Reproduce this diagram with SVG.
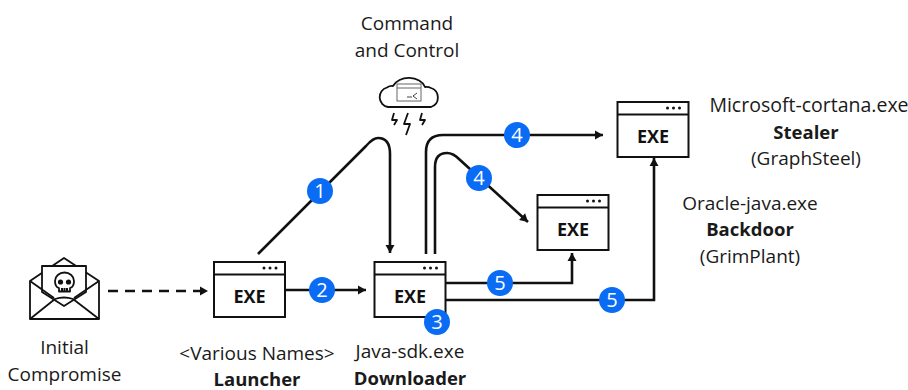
<svg xmlns="http://www.w3.org/2000/svg" width="908" height="390" viewBox="0 0 908 390">
<style>
text{font-family:"Open Sans","Noto Sans",sans-serif;fill:#1a1a1a;font-size:19px;text-anchor:middle}
.b{font-weight:700;font-size:18.500px}
.exe{font-weight:700;font-size:18px;fill:#111}
.box{fill:#fff;stroke:#111;stroke-width:2}
.line{fill:none;stroke:#111;stroke-width:2}
.conn{fill:none;stroke:#111;stroke-width:2.6}
.ic{fill:none;stroke:#111;stroke-width:1.8;stroke-linejoin:round}
.fi{fill:#fff}
.badge{fill:#0a6cf5}
.num{fill:#fff;font-size:20px}
</style>
<defs>
<marker id="arr" markerUnits="userSpaceOnUse" markerWidth="10" markerHeight="10" refX="9" refY="5" orient="auto"><path d="M1 0.5L9 5L1 9.500z" fill="#111"/></marker>
<g id="win"><rect class="box" x="0" y="0" width="71" height="55"/><path class="line" d="M0 12.500H71"/><circle cx="50" cy="6" r="1.500" fill="#111"/><circle cx="56" cy="6" r="1.500" fill="#111"/><circle cx="62" cy="6" r="1.500" fill="#111"/><text class="exe" x="35.500" y="41">EXE</text></g>
</defs>
<g id="connectors">
<path class="conn" marker-end="url(#arr)" stroke-dasharray="10 7" d="M108 291H208"/>
<path class="conn" marker-end="url(#arr)" d="M258 254L366 146Q373 138 378 138Q390 138 390 154V253"/>
<path class="conn" marker-end="url(#arr)" d="M286 290H366"/>
<path class="conn" marker-end="url(#arr)" d="M426 254V152Q426 135 443 135H603"/>
<path class="conn" marker-end="url(#arr)" d="M435 254V167Q435 153 447 153Q453 153 459 159L528 222"/>
<path class="conn" marker-end="url(#arr)" d="M446 283H572V253"/>
<path class="conn" marker-end="url(#arr)" d="M446 300H654V158"/>
</g>
<g id="initial">
<path class="ic" d="M30 319V281L64 258L99 281V319Z"/>
<path class="ic fi" d="M42 292V266H86V292L64 306Z"/>
<path class="ic" d="M30 319L55 299Q64 296 73 299L99 319"/>
<path class="ic" d="M30 281L54 298M99 281L74 298"/>
<path class="ic fi" d="M55 281a9.500 8.500 0 0 1 19 0q0 6-4 7v3.500h-11v-3.500q-4-1-4-7z"/>
<circle cx="60.500" cy="282" r="2.600" fill="#111"/><circle cx="68.500" cy="282" r="2.600" fill="#111"/>
<path class="line" stroke-width="1" d="M62 288v4M64.500 288v4M67 288v4"/>
<text x="64.500" y="354">Initial</text><text x="64.500" y="381">Compromise</text>
</g>
<g id="launcher"><use href="#win" x="214" y="262"/><text x="257" y="360">&lt;Various Names&gt;</text><text class="b" x="257" y="386">Launcher</text></g>
<g id="downloader"><use href="#win" x="374.500" y="262"/><text x="410" y="358">Java-sdk.exe</text><text class="b" x="410" y="385">Downloader</text></g>
<g id="backdoor"><use href="#win" x="537.500" y="195"/><text x="750" y="210">Oracle-java.exe</text><text class="b" x="750" y="236">Backdoor</text><text x="750" y="263">(GrimPlant)</text></g>
<g id="stealer"><use href="#win" x="617.500" y="102"/><text x="809" y="112" style="font-size:19.500px">Microsoft-cortana.exe</text><text class="b" x="806" y="139">Stealer</text><text x="806" y="165">(GraphSteel)</text></g>
<g id="c2">
<text x="407" y="30">Command</text><text x="407" y="57">and Control</text>
<path class="ic" d="M388 107A10 10 0 0 1 387 87.500A9 9 0 0 1 393 86A17 13 0 0 1 425 87A10 10 0 0 1 431 88A10 10 0 0 1 431 107Z"/>
<rect x="397" y="84" width="24" height="17" fill="#fff" stroke="#666" stroke-width="1"/>
<path d="M397 88H421" stroke="#666" fill="none"/><path d="M407 97H412M417 93L413 96L417 99" stroke="#444" fill="none"/>
<path class="ic" d="M394 113L392 120H397L394 125M408 113L404 124H410L406 135M422 113L420 120H425L422 125"/>
</g>
<g id="badges">
<circle class="badge" cx="320" cy="191" r="13"/><text class="num" x="320" y="198">1</text>
<circle class="badge" cx="322" cy="290" r="13"/><text class="num" x="322" y="297">2</text>
<circle class="badge" cx="437" cy="322" r="13"/><text class="num" x="437" y="329">3</text>
<circle class="badge" cx="517" cy="135" r="13"/><text class="num" x="517" y="142">4</text>
<circle class="badge" cx="479" cy="178" r="13"/><text class="num" x="479" y="185">4</text>
<circle class="badge" cx="500" cy="283" r="13"/><text class="num" x="500" y="290">5</text>
<circle class="badge" cx="612" cy="300" r="13"/><text class="num" x="612" y="307">5</text>
</g>
</svg>
